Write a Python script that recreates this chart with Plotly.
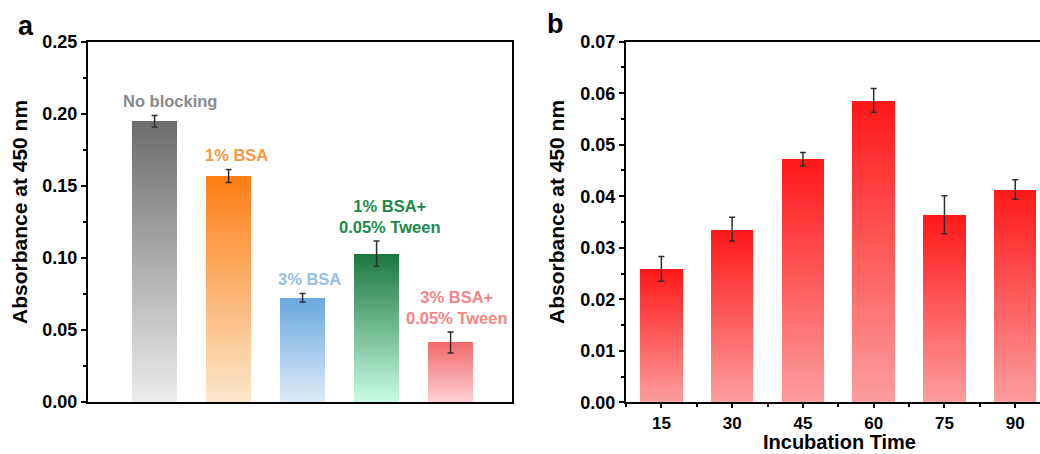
import plotly.graph_objects as go

# ---------------- data ----------------
blocking_labels = ["No blocking", "1% BSA", "3% BSA", "1% BSA+<br>0.05% Tween", "3% BSA+<br>0.05% Tween"]
blocking_values = [0.195, 0.157, 0.0724, 0.103, 0.0413]
blocking_errors = [0.0040, 0.0045, 0.0030, 0.0088, 0.0073]

incubation_times = ["15", "30", "45", "60", "75", "90"]
incubation_values = [0.0259, 0.0336, 0.0472, 0.0586, 0.0364, 0.0413]
incubation_errors = [0.0024, 0.0023, 0.0013, 0.0023, 0.0037, 0.0019]

a_yticks = [0.00, 0.05, 0.10, 0.15, 0.20, 0.25]
b_yticks = [0.00, 0.01, 0.02, 0.03, 0.04, 0.05, 0.06, 0.07]

# ---------------- styles ----------------
W, H = 1040, 454
FONT = "Liberation Sans, Arial, sans-serif"
# (top colour, bottom colour) of each gradient bar
a_grad = [((108, 108, 108), (236, 236, 236)),
          ((255, 125, 20), (250, 232, 204)),
          ((106, 168, 222), (222, 236, 248)),
          ((26, 120, 62), (200, 252, 228)),
          ((244, 106, 106), (252, 210, 216))]
b_grad = ((255, 24, 24), (252, 158, 158))
a_label_colors = ["#8a8a8a", "#f39a48", "#93bfe3", "#1c8a4a", "#f28585"]
a_label_dx = [15, 8, 7, 13, 6]
NSLICE = 60


def mix(top, bot, t):
    return "rgb(%d,%d,%d)" % tuple(round(b + (a - b) * t) for a, b in zip(top, bot))


fig = go.Figure()


def gradient_bars(values, grads, xaxis, yaxis, width):
    idx = list(range(len(values)))
    for k in range(NSLICE):
        t = (k + 0.5) / NSLICE
        fig.add_trace(go.Bar(
            x=idx, y=[v / NSLICE for v in values], base=[v * k / NSLICE for v in values],
            marker=dict(color=[mix(g[0], g[1], t) for g in grads], line=dict(width=0)),
            width=width, xaxis=xaxis, yaxis=yaxis, showlegend=False, hoverinfo="skip"))


def err_trace(values, errors, xaxis, yaxis):
    fig.add_trace(go.Scatter(
        x=list(range(len(values))), y=values, mode="markers",
        marker=dict(size=1, color="rgba(0,0,0,0)"),
        error_y=dict(type="data", array=errors, visible=True, color="#2e2e2e",
                     thickness=1.5, width=3),
        xaxis=xaxis, yaxis=yaxis, showlegend=False, hoverinfo="skip"))


gradient_bars(blocking_values, a_grad, "x", "y", 0.6)
err_trace(blocking_values, blocking_errors, "x", "y")
gradient_bars(incubation_values, [b_grad] * len(incubation_values), "x2", "y2", 0.6)
err_trace(incubation_values, incubation_errors, "x2", "y2")

fig.update_layout(barmode="overlay", bargap=0)

# geometry (pixels)
ax_l, ax_r, ax_t, ax_b = 88, 512, 42, 402
bx_l, bx_t, bx_b = 626, 41.7, 402.3

tickfont = dict(family=FONT, size=18, color="black", weight="bold")
axis_common = dict(showgrid=False, zeroline=False, linecolor="black", linewidth=2,
                   ticks="outside", tickcolor="black", tickwidth=2, tickfont=tickfont,
                   automargin=False)

fig.update_layout(
    width=W, height=H, margin=dict(l=0, r=0, t=0, b=0, pad=0, autoexpand=False),
    paper_bgcolor="white", plot_bgcolor="white",
    font=dict(family=FONT, color="black"),
    xaxis=dict(domain=[ax_l / W, ax_r / W], range=[-0.9, 4.83], showgrid=False, zeroline=False,
               showline=True, linecolor="black", linewidth=2, mirror=True, automargin=False,
               ticks="", showticklabels=False, fixedrange=True),
    yaxis=dict(domain=[1 - ax_b / H, 1 - ax_t / H], range=[0, 0.25], tickvals=a_yticks,
               ticktext=["%.2f" % v for v in a_yticks], ticklen=5, showline=True, mirror=True,
               minor=dict(dtick=0.025, ticklen=3, tickcolor="black", tickwidth=2, ticks="outside"),
               **axis_common),
    xaxis2=dict(domain=[bx_l / W, 1.0], range=[-0.5, 5.35],
                tickvals=list(range(len(incubation_times))), ticktext=incubation_times,
                ticklen=4, showline=True, mirror=True, anchor="y2",
                minor=dict(tickvals=[i + 0.5 for i in range(-1, len(incubation_times))],
                           ticklen=3, tickcolor="black", tickwidth=2, ticks="outside"),
                **{**axis_common, "tickfont": dict(family=FONT, size=17, color="black", weight="bold")}),
    yaxis2=dict(domain=[1 - bx_b / H, 1 - bx_t / H], range=[0, 0.07], tickvals=b_yticks,
                ticktext=["%.2f" % v for v in b_yticks], ticklen=5, showline=True, mirror=False,
                anchor="x2",
                minor=dict(dtick=0.005, ticklen=3, tickcolor="black", tickwidth=2, ticks="outside"),
                **axis_common),
)

ann = []
# category labels in panel a
for i, (lab, v, e) in enumerate(zip(blocking_labels, blocking_values, blocking_errors)):
    ann.append(dict(x=i, y=v + e, xref="x", yref="y", text="<b>%s</b>" % lab, showarrow=False,
                    yanchor="bottom", yshift=3, xshift=a_label_dx[i],
                    font=dict(family=FONT, size=16.5, color=a_label_colors[i])))
# axis titles
ann.append(dict(x=19 / W, y=1 - 212 / H, xref="paper", yref="paper", text="<b>Absorbance at 450 nm</b>",
                textangle=-90, showarrow=False, xanchor="center", yanchor="middle",
                font=dict(family=FONT, size=21, color="black")))
ann.append(dict(x=556 / W, y=1 - 212 / H, xref="paper", yref="paper", text="<b>Absorbance at 450 nm</b>",
                textangle=-90, showarrow=False, xanchor="center", yanchor="middle",
                font=dict(family=FONT, size=21, color="black")))
ann.append(dict(x=839 / W, y=0, xref="paper", yref="paper", text="<b>Incubation Time</b>",
                showarrow=False, xanchor="center", yanchor="bottom", borderpad=0, yshift=0,
                font=dict(family=FONT, size=20, color="black")))
# panel letters
ann.append(dict(x=26 / W, y=1 - 26 / H, xref="paper", yref="paper", text="<b>a</b>",
                showarrow=False, xanchor="center", yanchor="middle",
                font=dict(family=FONT, size=27, color="black")))
ann.append(dict(x=555 / W, y=1 - 24 / H, xref="paper", yref="paper", text="<b>b</b>",
                showarrow=False, xanchor="center", yanchor="middle",
                font=dict(family=FONT, size=27, color="black")))
fig.update_layout(annotations=ann)

fig.write_html("out.html")
